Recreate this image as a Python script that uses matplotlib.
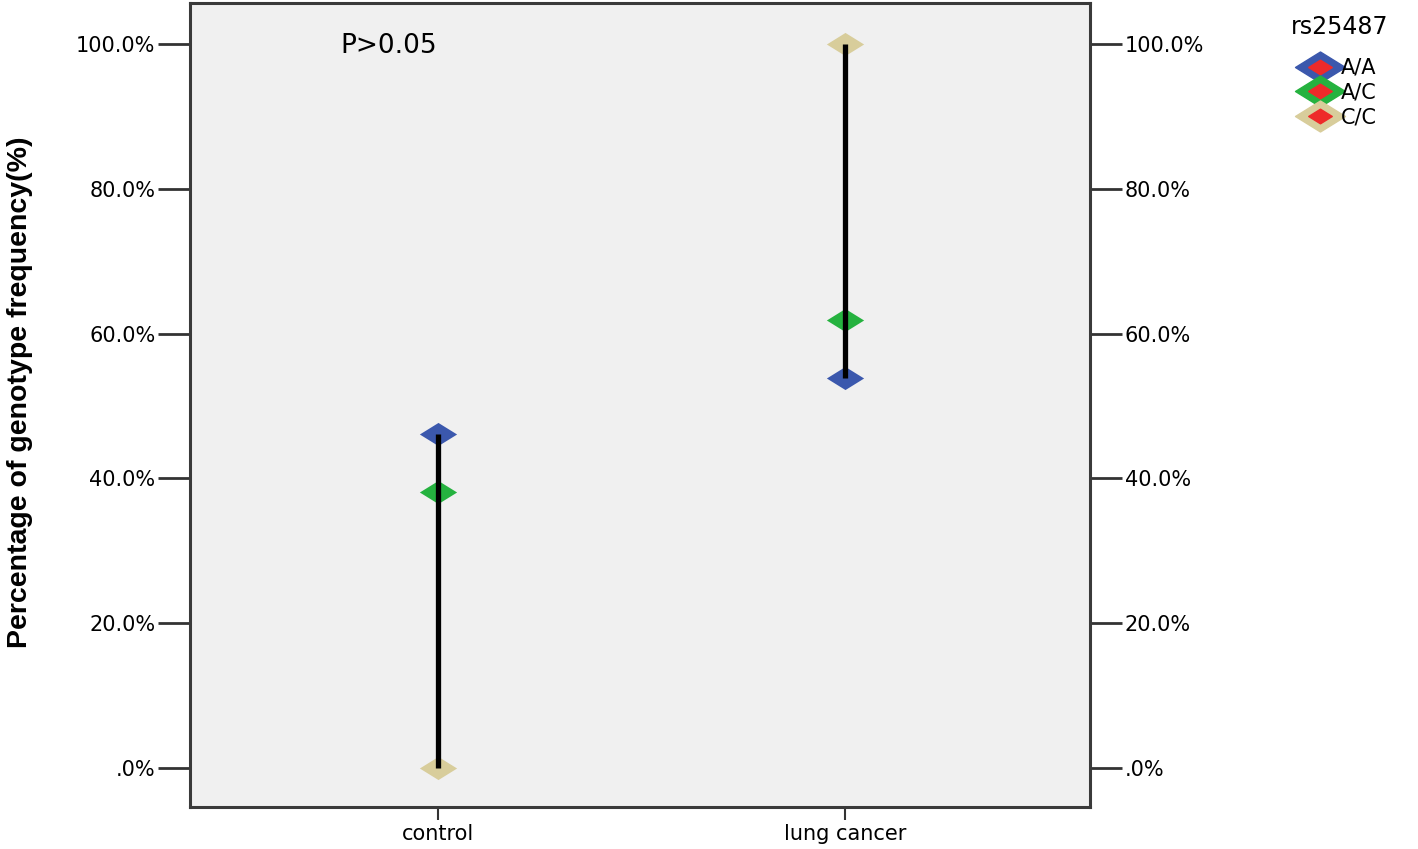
import matplotlib
matplotlib.use("Agg")
import matplotlib.pyplot as plt
from matplotlib.lines import Line2D
from matplotlib.legend_handler import HandlerTuple
from matplotlib.ticker import FuncFormatter
from matplotlib.path import Path

plt.rcParams['font.family'] = ['DejaVu Sans']

# data
groups = ['control', 'lung cancer']
genotypes = ['A/A', 'A/C', 'C/C']
aa = [46.1, 53.9]
ac = [38.1, 61.9]
cc = [0.0, 100.0]
colors = ['#3b58ad', '#25b23f', '#d8cd9b']
ticks = [0, 20, 40, 60, 80, 100]

# flattened diamond like SPSS uses
flat_d = Path([(0, 0.62), (1, 0), (0, -0.62), (-1, 0), (0, 0.62)],
              [Path.MOVETO, Path.LINETO, Path.LINETO, Path.LINETO, Path.CLOSEPOLY])

fig = plt.figure(figsize=(14.18, 8.49), dpi=100)
ax = fig.add_axes([0.134, 0.0495, 0.6347, 0.947])
ax.set_facecolor('#f0f0f0')

x = list(range(len(groups)))
series = [aa, ac, cc]
for vals, col in zip(series, colors):
    ax.scatter(x, vals, marker=flat_d, s=720, color=col, zorder=2, linewidths=0)

# high-low line per group
for i in x:
    lo = min(s[i] for s in series)
    hi = max(s[i] for s in series)
    ax.plot([i, i], [lo, hi], color='black', lw=3.8, zorder=3, solid_capstyle='butt')

ax.set_xlim(-0.609, 1.602)
ax.set_ylim(-5.4, 105.66)
ax.set_xticks(x)
ax.set_xticklabels(groups, fontsize=15)
ax.set_yticks(ticks)
fmt = FuncFormatter(lambda v, p: '.0%' if v == 0 else f'{v:.1f}%')
ax.yaxis.set_major_formatter(fmt)
ax.tick_params(axis='y', labelsize=15, length=23, width=2, pad=2, direction='out',
               color='#333333')
ax.tick_params(axis='x', length=9, width=1.5, direction='out', color='#333333')
ax.tick_params(axis='y', which='both', right=True, labelright=True)
for sp in ax.spines.values():
    sp.set_linewidth(2.2)
    sp.set_color('#3a3a3a')

ax.set_ylabel('Percentage of genotype frequency(%)', fontsize=20.5,
              fontweight='bold', family=['Liberation Sans'])
ax.yaxis.set_label_coords(-0.174, 0.516)

ax.text(-0.12, 99.7, 'P>0.05', fontsize=19, ha='center', va='center')

# legend: diamond with small red center
handles = []
for col in colors:
    outer = Line2D([], [], marker=flat_d, ls='none', markersize=36,
                   markerfacecolor=col, markeredgecolor=col)
    inner = Line2D([], [], marker=flat_d, ls='none', markersize=17,
                   markerfacecolor='#ee2a2a', markeredgecolor='#ee2a2a')
    handles.append((outer, inner))
leg = fig.legend(handles, genotypes, title='rs25487', loc='upper left',
                 bbox_to_anchor=(0.897, 1.005), frameon=False, fontsize=15,
                 title_fontsize=17, handlelength=1.8, handletextpad=0.1,
                 labelspacing=0.22,
                 handler_map={tuple: HandlerTuple(ndivide=1, pad=0)})
leg._legend_box.align = 'center'
leg._legend_box.sep = 14

fig.savefig('out.png', dpi=100)
